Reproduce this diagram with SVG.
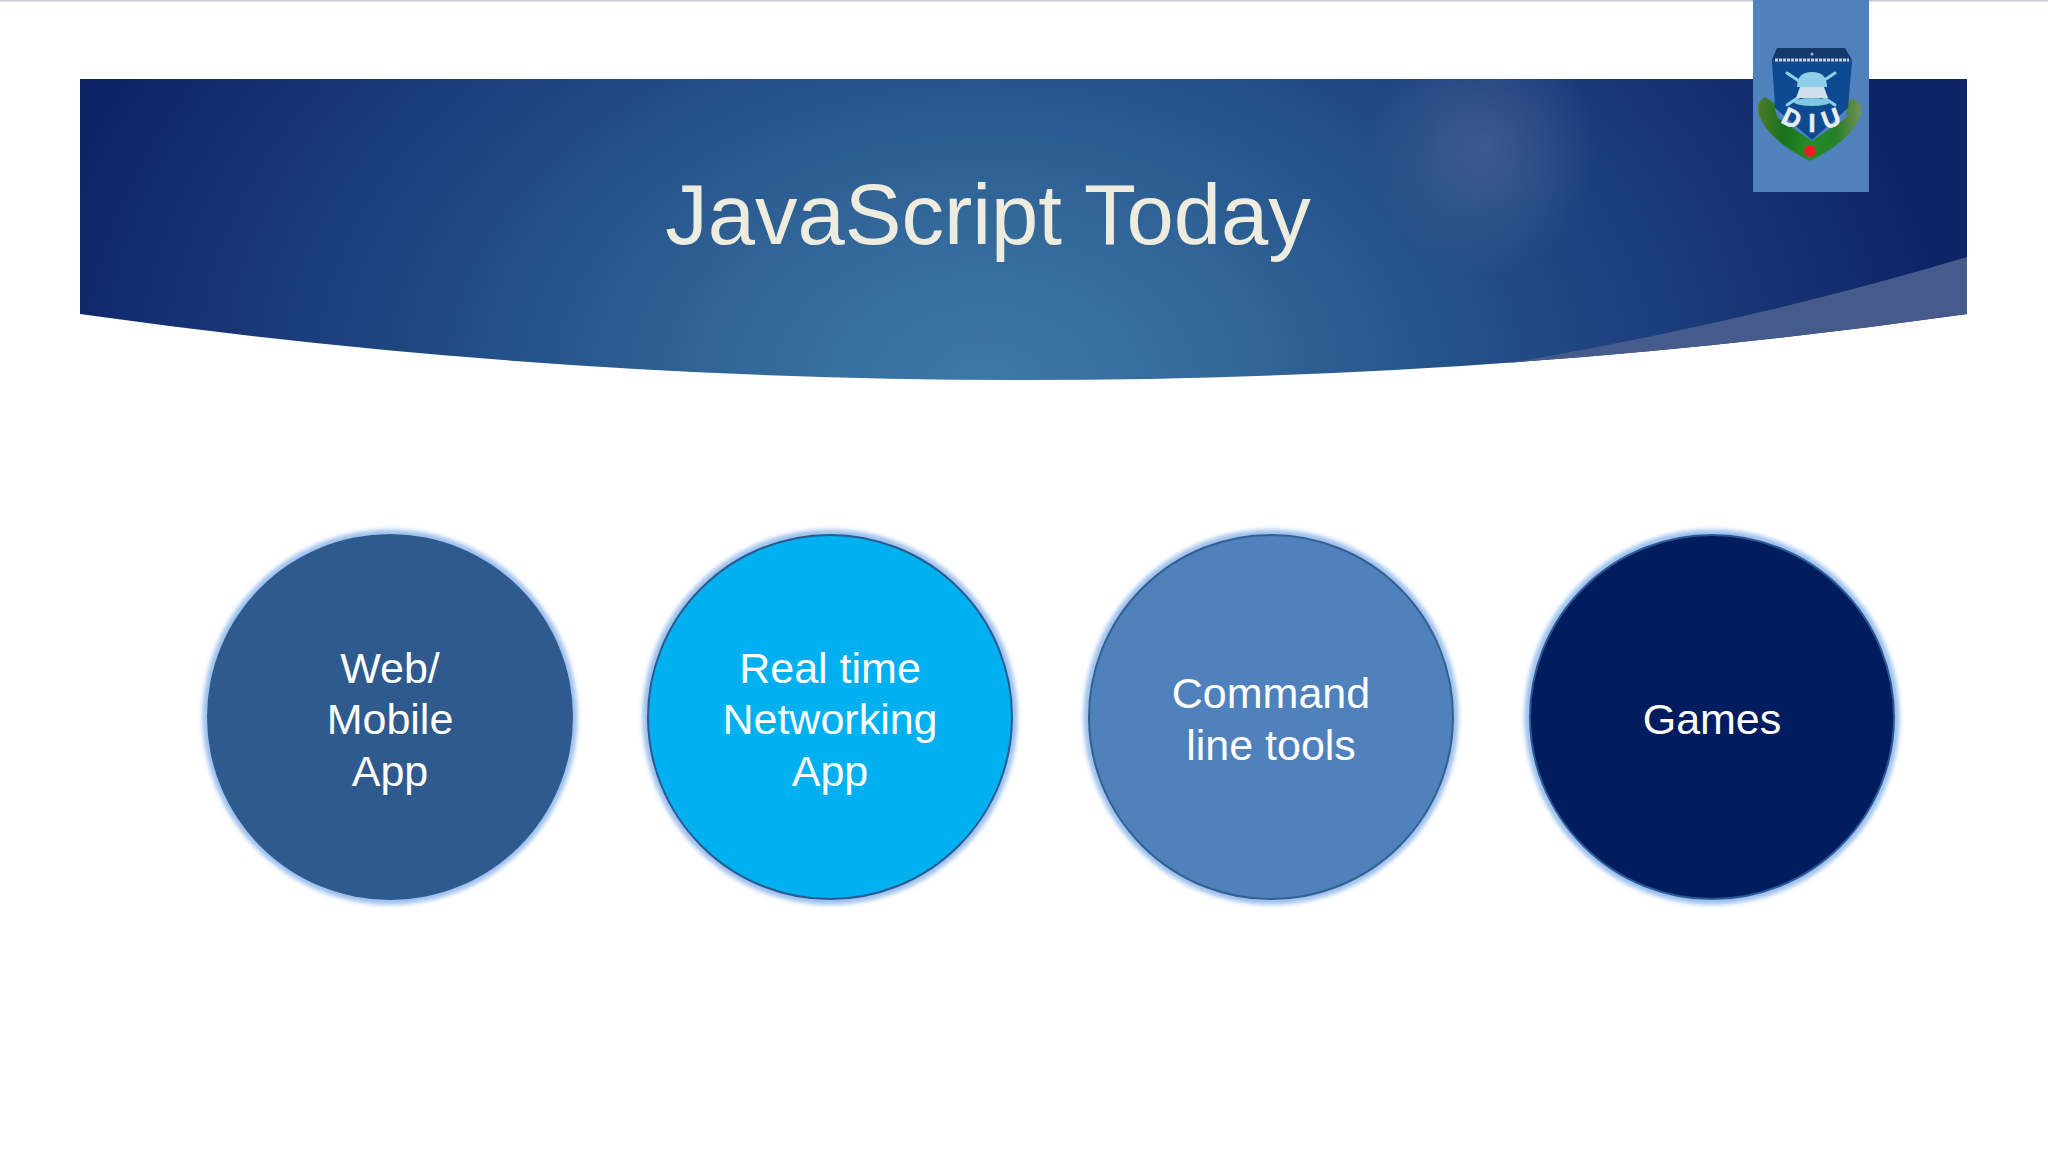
<svg xmlns="http://www.w3.org/2000/svg" width="2048" height="1152" viewBox="0 0 2048 1152">
<defs>
<radialGradient id="bannerG" gradientUnits="userSpaceOnUse" cx="985" cy="385" r="960" gradientTransform="translate(985 385) scale(1 0.7) translate(-985 -385)">
<stop offset="0" stop-color="#3c79a9"/>
<stop offset="0.25" stop-color="#33689a"/>
<stop offset="0.5" stop-color="#245088"/>
<stop offset="0.75" stop-color="#1a3a7a"/>
<stop offset="1" stop-color="#0f2468"/>
</radialGradient>
<radialGradient id="glow" cx="0.5" cy="0.5" r="0.5">
<stop offset="0" stop-color="#4a6397" stop-opacity="0.7"/>
<stop offset="0.5" stop-color="#4a6397" stop-opacity="0.35"/>
<stop offset="1" stop-color="#4a6397" stop-opacity="0"/>
</radialGradient>
<linearGradient id="leaf" x1="0" y1="0" x2="1" y2="0">
<stop offset="0" stop-color="#4f7a2a"/><stop offset="0.25" stop-color="#1a721c"/><stop offset="0.5" stop-color="#248f26"/><stop offset="0.75" stop-color="#257f26"/><stop offset="1" stop-color="#74905a"/>
</linearGradient>
<clipPath id="bannerClip"><path d="M80 79H1967V314Q1500 380 1024 380Q547 380 80 314Z"/></clipPath>
<filter id="halo" x="-10%" y="-10%" width="120%" height="120%"><feGaussianBlur stdDeviation="2"/></filter>
</defs>
<style>
.t{font-family:"Liberation Sans",Arial,sans-serif;fill:#fff;font-size:43px;text-anchor:middle}
.halo{fill:#9cc0ee;filter:url(#halo)}
.c{stroke-width:2}
</style>
<rect width="2048" height="1152" fill="#ffffff"/>
<rect width="2048" height="1.5" fill="#c4c8d4"/>
<g id="banner">
<path d="M80 79H1967V314Q1500 380 1024 380Q547 380 80 314Z" fill="url(#bannerG)"/>
<g clip-path="url(#bannerClip)">
<ellipse cx="1482" cy="150" rx="115" ry="125" fill="url(#glow)"/>
<path d="M1455 372Q1730 328 1967 257V340L1455 385Z" fill="#465a8c"/>
</g>
<text x="988" y="243.500" font-family="'Liberation Sans',Arial,sans-serif" font-size="85" fill="#eeecdf" text-anchor="middle">JavaScript Today</text>
</g>
<g id="logo">
<rect x="1753" y="0" width="116" height="192" fill="#4f81bd"/>
<path d="M1765 97Q1755 103 1759 115Q1768 140 1810 161Q1852 140 1861 115Q1864 103 1852 98L1846 104Q1848 112 1846 118L1812 141L1778 118Q1774 110 1775 104Z" fill="url(#leaf)"/>
<path d="M1777 48H1845L1852 61L1848 108L1812 140L1775 108L1772 61Z" fill="#0e4a92"/>
<path d="M1777 48H1845L1852 60H1772Z" fill="#14386a"/>
<line x1="1775" y1="60" x2="1849" y2="60" stroke="#c6d6e6" stroke-width="3" stroke-dasharray="3 1"/>
<circle cx="1812" cy="54" r="1.500" fill="#9fb8d0"/>
<g stroke="#8fd0e8" stroke-width="3" fill="none" stroke-linecap="round"><path d="M1787 73L1835 105"/><path d="M1835 73L1787 105"/></g>
<path d="M1797 87Q1797 72 1812 72Q1827 72 1827 87Z" fill="#8fd0e8"/>
<path d="M1800 87H1824L1828 98H1796Z" fill="#cfe0ea"/>
<ellipse cx="1812" cy="102" rx="18" ry="4" fill="#7fc8e4"/>
<g font-family="'Liberation Sans',Arial,sans-serif" font-weight="700" font-size="25" fill="#e8eef2" stroke="#e8eef2" stroke-width="0.6" text-anchor="middle">
<text transform="translate(1792 118) rotate(25)" y="9">D</text>
<text x="1812" y="132">I</text>
<text transform="translate(1831 118) rotate(-20)" y="9">U</text>
</g>
<circle cx="1810" cy="151" r="6" fill="#ee1c25"/>
</g>
<g id="connectors"></g>
<g id="node-web">
<circle class="halo" cx="390" cy="717" r="187.500"/>
<circle cx="390" cy="717" r="183" fill="#2e5a8e"/>
<text class="t" x="390" y="683">Web/</text>
<text class="t" x="390" y="734">Mobile</text>
<text class="t" x="390" y="786">App</text>
</g>
<g id="node-realtime">
<circle class="halo" cx="830" cy="717" r="187.500"/>
<circle class="c" cx="830" cy="717" r="182" fill="#00b0f0" stroke="#2a5a90"/>
<text class="t" x="830" y="683">Real time</text>
<text class="t" x="830" y="734">Networking</text>
<text class="t" x="830" y="786">App</text>
</g>
<g id="node-cli">
<circle class="halo" cx="1271" cy="717" r="187.500"/>
<circle class="c" cx="1271" cy="717" r="182" fill="#4f81bd" stroke="#33608f"/>
<text class="t" x="1271" y="708">Command</text>
<text class="t" x="1271" y="760">line tools</text>
</g>
<g id="node-games">
<circle class="halo" cx="1712" cy="717" r="187.500"/>
<circle class="c" cx="1712" cy="717" r="182" fill="#021d5f" stroke="#2a5a95"/>
<text class="t" x="1712" y="734">Games</text>
</g>
</svg>
